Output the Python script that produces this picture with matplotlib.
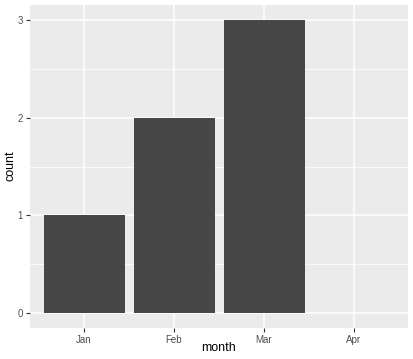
import matplotlib
matplotlib.use("Agg")
import matplotlib.pyplot as plt

plt.rcParams["font.family"] = ["Liberation Sans", "DejaVu Sans"]

months = ["Jan", "Feb", "Mar", "Apr"]
counts = [1, 2, 3, 0]
yticks = [0, 1, 2, 3]

fig = plt.figure(figsize=(4.13, 3.59), dpi=100)
W, H = 413, 359
ax = fig.add_axes([30 / W, 1 - 328 / H, 378 / W, 323 / H])
ax.set_facecolor("#EBEBEB")

x = list(range(1, len(months) + 1))
ax.bar(x, counts, width=0.9, color="#474747", zorder=3)

ax.set_xlim(0.4, 4.6)
ax.set_ylim(-0.15, 3.15)
ax.set_xticks(x)
ax.set_xticklabels(months)
ax.set_yticks(yticks)
ax.set_yticks([0.5, 1.5, 2.5], minor=True)

ax.grid(which="major", color="white", linewidth=1.1, zorder=1)
ax.grid(which="minor", axis="y", color="white", linewidth=0.55, zorder=1)
for s in ax.spines.values():
    s.set_visible(False)

ax.tick_params(which="major", length=2.7, width=0.8, color="#333333",
               labelsize=7, labelcolor="#4D4D4D", pad=2.5)
ax.tick_params(which="minor", length=0)

fig.text(219 / W, 1 - 348 / H, "month", fontsize=9, color="black",
         ha="center", va="center")
fig.text(10 / W, 1 - 166 / H, "count", fontsize=9, color="black",
         ha="center", va="center", rotation=90)

fig.savefig("out.png", dpi=100)
